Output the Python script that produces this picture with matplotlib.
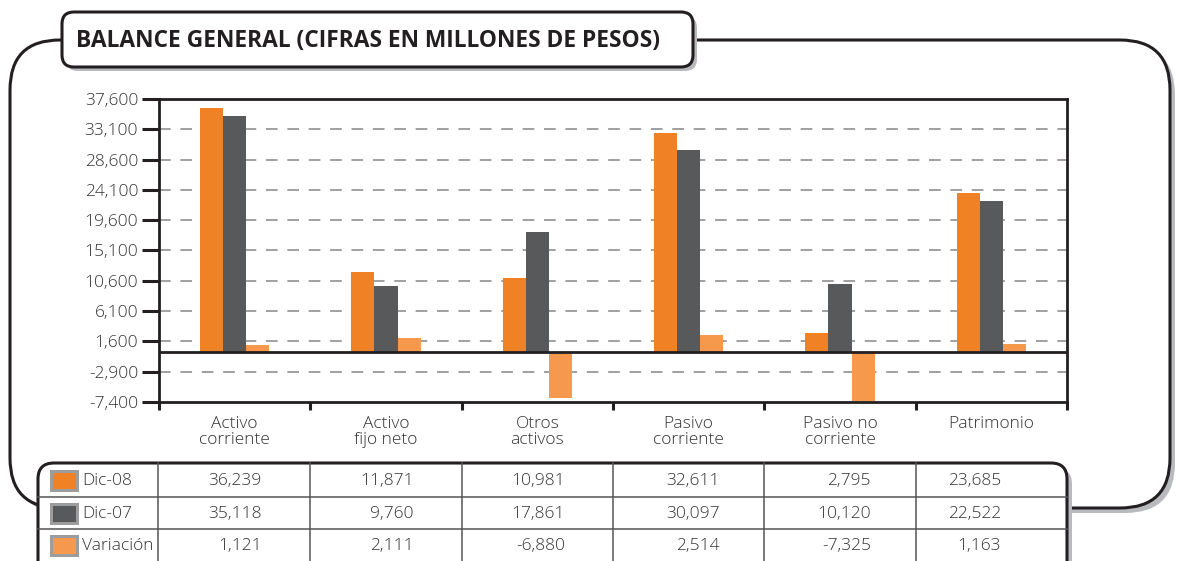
import matplotlib.pyplot as plt
import numpy as np
from matplotlib.patches import FancyBboxPatch, Rectangle

plt.switch_backend('Agg')
plt.rcParams['font.family'] = ['Open Sans', 'DejaVu Sans']

# Data (millones de pesos)
categories = ['Activo\ncorriente', 'Activo\nfijo neto', 'Otros\nactivos',
              'Pasivo\ncorriente', 'Pasivo no\ncorriente', 'Patrimonio']
dic08 = [36239, 11871, 10981, 32611, 2795, 23685]
dic07 = [35118, 9760, 17861, 30097, 10120, 22522]
variacion = [1121, 2111, -6880, 2514, -7325, 1163]
series_names = ['Dic-08', 'Dic-07', 'Variación']
yticks = [37600, 33100, 28600, 24100, 19600, 15100, 10600, 6100, 1600, -2900, -7400]

c_08 = '#f08125'
c_07 = '#58595b'
c_var = '#f7994d'
txt = '#333333'
shadow = '#b9babd'

W, H = 1183, 561
fig = plt.figure(figsize=(W / 100, H / 100), dpi=100)

# background layer in pixel coordinates (frames, title, table)
bg = fig.add_axes([0, 0, 1, 1], zorder=0)
bg.set_xlim(0, W)
bg.set_ylim(H, 0)
bg.axis('off')


def rbox(x, y, w, h, r, off=5, lw=2.2):
    bg.add_patch(FancyBboxPatch((x + off, y + off), w, h,
                                boxstyle=f'round,pad=0,rounding_size={r}',
                                fc=shadow, ec='none'))
    bg.add_patch(FancyBboxPatch((x, y), w, h,
                                boxstyle=f'round,pad=0,rounding_size={r}',
                                fc='white', ec='#231f20', lw=lw))


# outer frame, title box, table box
rbox(10, 40, 1160, 468, 50, off=5)
rbox(62, 12, 631, 55, 12, off=4)
bg.text(76, 41, 'BALANCE GENERAL (CIFRAS EN MILLONES DE PESOS)',
        fontsize=16.4, fontweight='bold', color='#231f20', va='center', ha='left')
rbox(38, 463, 1029, 130, 16, off=5)

# main chart
left, right, top, bottom = 159, 1067, 99, 402
ax = fig.add_axes([left / W, 1 - bottom / H, (right - left) / W, (bottom - top) / H],
                  zorder=1)
x = np.arange(len(categories))
bw = 0.152
ax.bar(x - bw, dic08, bw, color=c_08, zorder=3)
ax.bar(x, dic07, bw, color=c_07, zorder=3)
ax.bar(x + bw, variacion, bw, color=c_var, zorder=3)
ax.set_xlim(-0.5, len(categories) - 0.5)
ax.set_ylim(yticks[-1], yticks[0])
ax.set_yticks(yticks)
ax.set_yticklabels([f'{v:,}' for v in yticks], fontsize=12.5, color=txt,
                   fontweight='light')
for v in yticks[1:-1]:
    ax.axhline(v, color='#a0a0a0', lw=1.4, ls=(0, (6, 5)), zorder=1)
ax.axhline(0, color='#231f20', lw=2, zorder=4)
ax.set_xticks(np.arange(len(categories) + 1) - 0.5)
ax.set_xticklabels([])
ax.tick_params(axis='y', direction='out', length=12, width=2.2, pad=3, color='#231f20')
ax.tick_params(axis='x', direction='out', length=5.5, width=2.2, color='#231f20')
for s in ax.spines.values():
    s.set_linewidth(2)
    s.set_color('#231f20')
for i, c in enumerate(categories):
    ax.text(i, -0.045, c, transform=ax.get_xaxis_transform(), ha='center', va='top',
            fontsize=12.5, color=txt, linespacing=1.0, fontweight='light')

# table below chart
col_edges = [158, 310, 462, 613, 764, 916, 1067]
row_edges = [463, 497, 529, 561]
for ye in row_edges[1:-1]:
    bg.plot([38, 1067], [ye, ye], color='#555555', lw=1.1)
for xe in col_edges[:-1]:
    bg.plot([xe, xe], [463, H], color='#555555', lw=1.1)
rows = [dic08, dic07, variacion]
colors = [c_08, c_07, c_var]
right_pad = [48, 48, 48, 44, 45, 66]
for r, (name, vals, col) in enumerate(zip(series_names, rows, colors)):
    yc = (row_edges[r] + row_edges[r + 1]) / 2 + 1
    bg.add_patch(Rectangle((50, yc - 11), 29, 22, fc='#9d9d9d', ec='none'))
    bg.add_patch(Rectangle((53, yc - 8), 23, 16, fc=col, ec='none'))
    bg.text(82, yc, name, fontsize=12.5, color=txt, va='center', ha='left',
            fontweight='light')
    for j, v in enumerate(vals):
        bg.text(col_edges[j + 1] - right_pad[j], yc, f'{v:,}', fontsize=12.5,
                color=txt, va='center', ha='right', fontweight='light')

fig.savefig('out.png', dpi=100)
